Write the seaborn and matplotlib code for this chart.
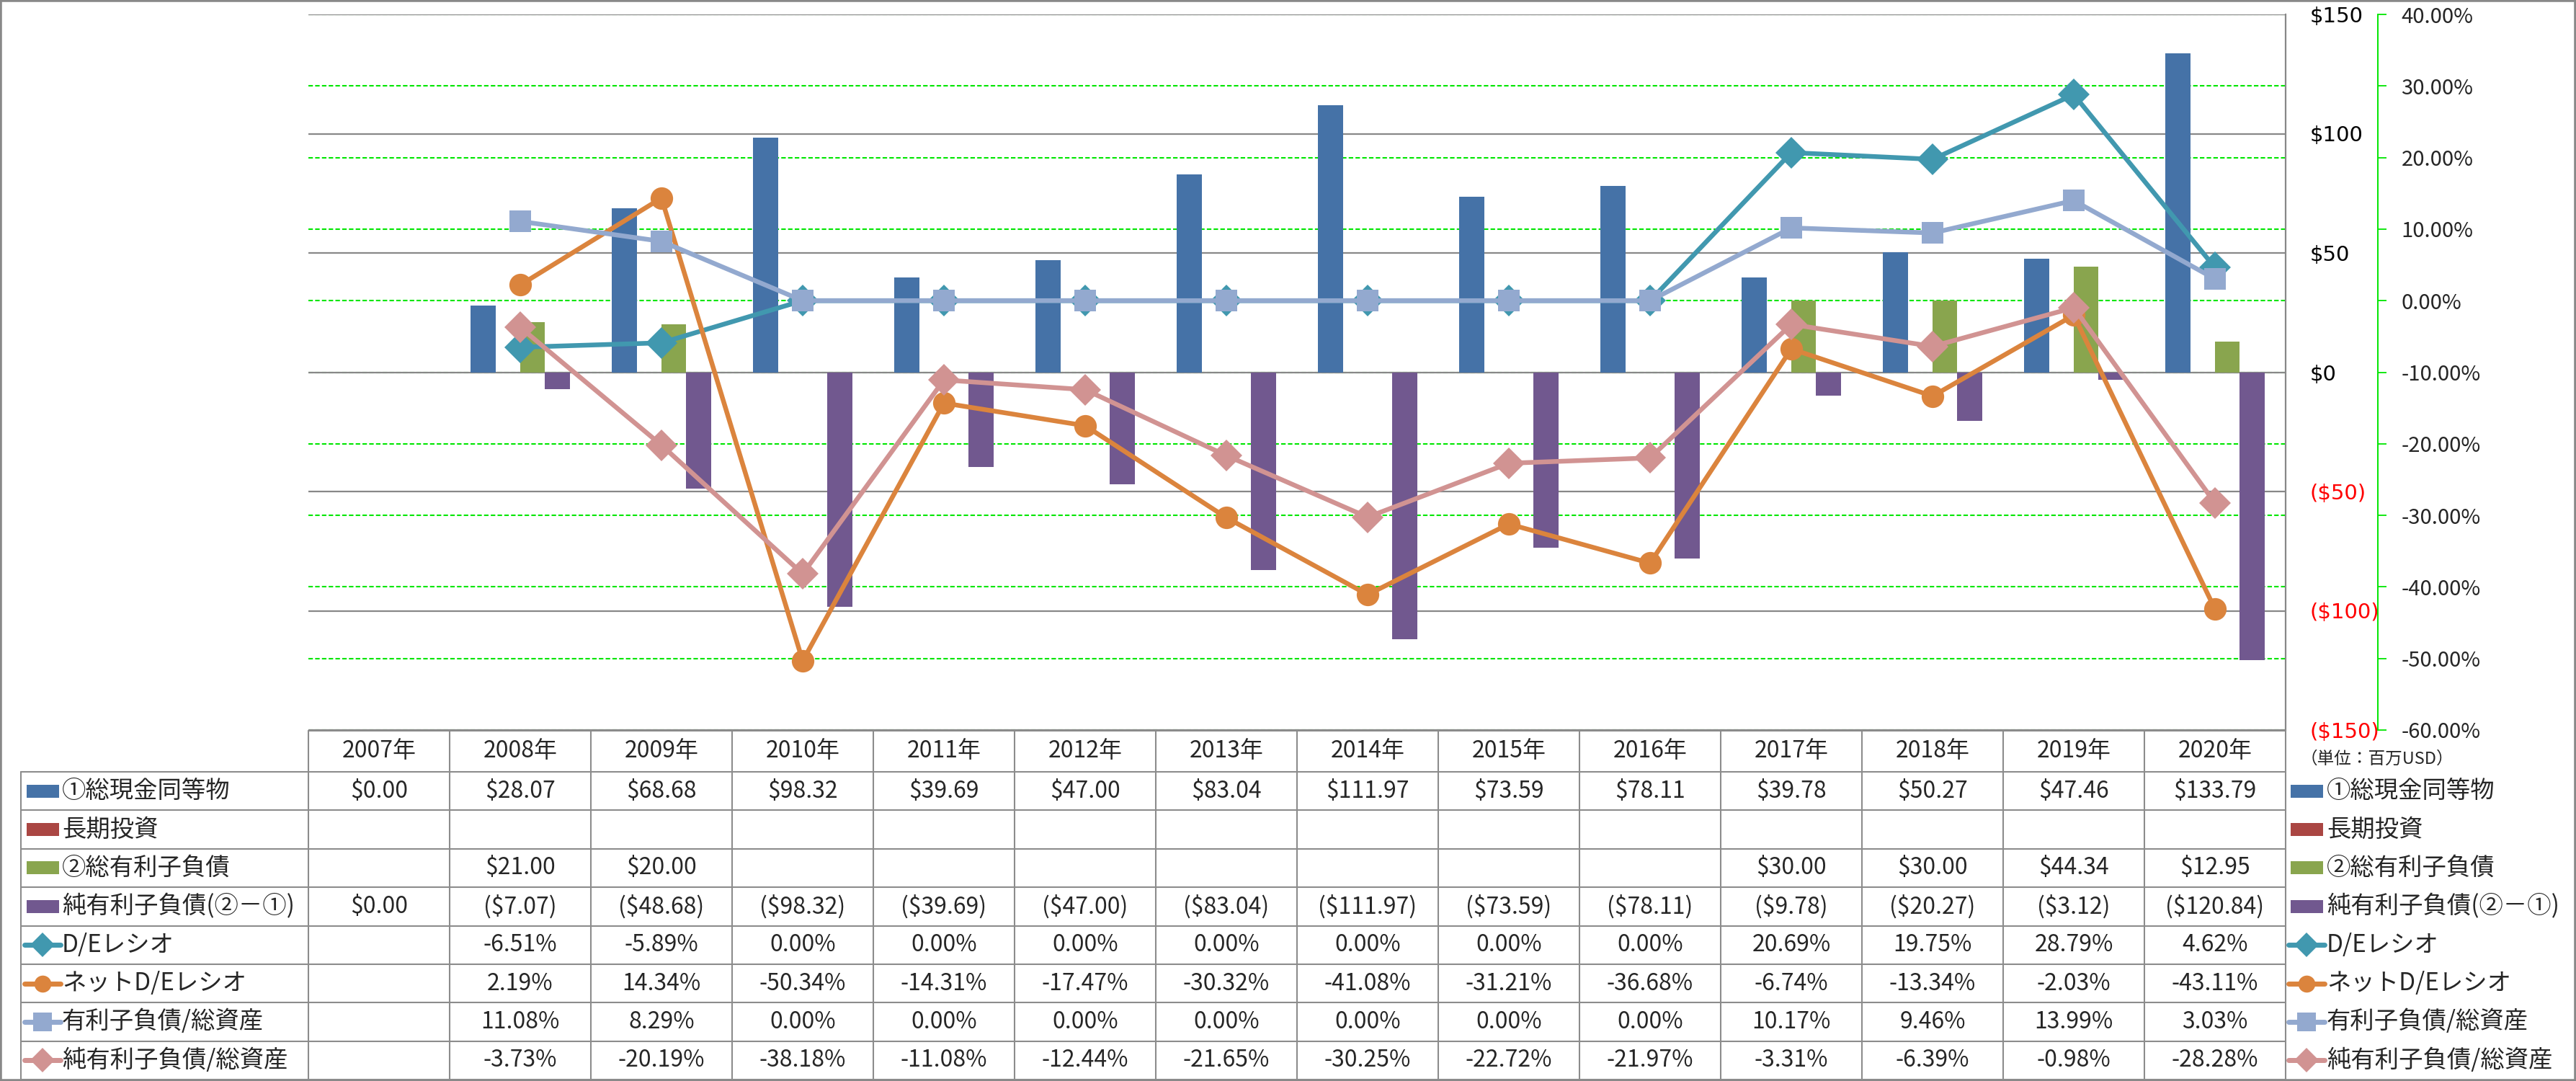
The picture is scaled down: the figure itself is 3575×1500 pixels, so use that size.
import numpy as np
import pandas as pd
import seaborn as sns
import matplotlib.pyplot as plt
from matplotlib.lines import Line2D
from matplotlib.patches import Rectangle
from matplotlib.transforms import Affine2D, blended_transform_factory

# data (百万USD / %)
years = ['2007年', '2008年', '2009年', '2010年', '2011年', '2012年', '2013年',
         '2014年', '2015年', '2016年', '2017年', '2018年', '2019年', '2020年']
cash = [0.00, 28.07, 68.68, 98.32, 39.69, 47.00, 83.04, 111.97, 73.59, 78.11, 39.78, 50.27, 47.46, 133.79]
invest = [None, None, None, None, None, None, None, None, None, None, None, None, None, None]
debt = [None, 21.00, 20.00, None, None, None, None, None, None, None, 30.00, 30.00, 44.34, 12.95]
net_debt = [0.00, -7.07, -48.68, -98.32, -39.69, -47.00, -83.04, -111.97, -73.59, -78.11, -9.78, -20.27, -3.12, -120.84]
de_ratio = [None, -6.51, -5.89, 0.00, 0.00, 0.00, 0.00, 0.00, 0.00, 0.00, 20.69, 19.75, 28.79, 4.62]
net_de_ratio = [None, 2.19, 14.34, -50.34, -14.31, -17.47, -30.32, -41.08, -31.21, -36.68, -6.74, -13.34, -2.03, -43.11]
debt_assets = [None, 11.08, 8.29, 0.00, 0.00, 0.00, 0.00, 0.00, 0.00, 0.00, 10.17, 9.46, 13.99, 3.03]
net_debt_assets = [None, -3.73, -20.19, -38.18, -11.08, -12.44, -21.65, -30.25, -22.72, -21.97, -3.31, -6.39, -0.98, -28.28]

bar_names = ['①総現金同等物', '長期投資', '②総有利子負債', '純有利子負債(②－①)']
bar_colors = ['#4572A7', '#AA4643', '#89A54E', '#71588F']
line_names = ['D/Eレシオ', 'ネットD/Eレシオ', '有利子負債/総資産', '純有利子負債/総資産']
line_colors = ['#4198AF', '#DB843D', '#93A9CF', '#D19392']
line_markers = ['D', 'o', 's', 'D']
line_ms = [22, 22.5, 22, 22]
key_ms = [17, 17, 19, 17]

dollar_ticks = [-150, -100, -50, 0, 50, 100, 150]
pct_ticks = [-60, -50, -40, -30, -20, -10, 0, 10, 20, 30, 40]

sns.set_style('white')
plt.rcParams['font.family'] = ['Noto Sans CJK JP', 'DejaVu Sans']

W, H = 3575, 1500
fig = plt.figure(figsize=(W / 100, H / 100), dpi=100)
pix = Affine2D().scale(1 / W, -1 / H).translate(0, 1) + fig.transFigure

plot_l, plot_r, plot_t, plot_b = 428, 3172, 20, 1013
ax = fig.add_axes([plot_l / W, 1 - plot_b / H, (plot_r - plot_l) / W, (plot_b - plot_t) / H])

# bars
bar_df = pd.DataFrame({
    'year': years * 4,
    'series': [n for n in bar_names for _ in years],
    'value': pd.to_numeric(pd.Series(cash + invest + debt + net_debt), errors='coerce'),
})
sns.barplot(data=bar_df, x='year', y='value', hue='series', order=years, hue_order=bar_names,
            palette=bar_colors, width=0.7, saturation=1, errorbar=None, legend=False,
            linewidth=0, ax=ax)

ax2 = ax.twinx()
xpos = np.arange(len(years))
line_data = [de_ratio, net_de_ratio, debt_assets, net_debt_assets]
for vals, c, m, ms in zip(line_data, line_colors, line_markers, line_ms):
    y = np.array([np.nan if v is None else v for v in vals], dtype=float)
    sns.lineplot(x=xpos, y=y, ax=ax2, color=c, marker=m, markersize=ms, linewidth=4.7,
                 markeredgewidth=0, legend=False)

ax.set_xlim(-0.5, len(years) - 0.5)
ax.set_ylim(-150, 150)
ax2.set_ylim(-60, 40)
for a in (ax, ax2):
    a.set_xlabel('')
    a.set_ylabel('')
ax.set_xticks([])

# gridlines: gray for $, green dotted for %
ax.set_yticks(dollar_ticks,
              labels=[f'${v}' if v >= 0 else f'(${-v})' for v in dollar_ticks])
ax.yaxis.grid(True, color='#888888', lw=1.6)
ax.set_axisbelow(True)
trans = blended_transform_factory(ax.transAxes, ax2.transData)
for p in pct_ticks:
    ax.add_line(Line2D([0, 1], [p, p], transform=trans, color='#00E600', lw=1.5,
                       ls=(0, (3, 1.5)), zorder=0.3))

ax.yaxis.tick_right()
ax.tick_params(axis='y', length=0, pad=24, labelsize=21)
for lbl, v in zip(ax.get_yticklabels(), dollar_ticks):
    lbl.set_fontfamily('DejaVu Sans')
    lbl.set_color('red' if v < 0 else 'black')

ax2.set_yticks(pct_ticks, labels=[f'{v:.2f}%' for v in pct_ticks])
ax2.tick_params(axis='y', direction='out', length=8.6, width=1.3, color='#00E600',
                pad=15, labelsize=21)
for lbl, v in zip(ax2.get_yticklabels(), pct_ticks):
    lbl.set_fontfamily('DejaVu Sans')
    lbl.set_color('red' if v < 0 else 'black')

for s in ['top', 'bottom', 'left']:
    ax.spines[s].set_visible(False)
    ax2.spines[s].set_visible(False)
ax.spines['right'].set_color('#888888')
ax.spines['right'].set_linewidth(1.6)
ax2.spines['right'].set_position(('outward', 92))
ax2.spines['right'].set_color('#00E600')
ax2.spines['right'].set_linestyle((0, (1.5, 1)))
ax2.spines['right'].set_linewidth(1.4)

# data table
grid_c = '#8c8c8c'
head_t, head_b = 1014, 1071
row_h = (1498 - head_b) / 8
row_y = [head_b + row_h * (k + 0.5) for k in range(8)]
col_edges = [plot_l + (plot_r - plot_l) / len(years) * i for i in range(len(years) + 1)]

def fline(xs, ys, **kw):
    fig.add_artist(Line2D(xs, ys, transform=pix, **kw))

fline([plot_l, plot_r], [head_t, head_t], color=grid_c, lw=1.5)
for k in range(9):
    y = head_b + row_h * k
    fline([29, plot_r], [y, y], color=grid_c, lw=1.5)
fline([29, 29], [head_b, 1498], color=grid_c, lw=1.5)
for x in col_edges:
    fline([x, x], [head_t, 1498], color=grid_c, lw=1.5)

col_tr = blended_transform_factory(ax.transData, pix)
for i, yr in enumerate(years):
    fig.text(i, (head_t + head_b) / 2, yr, transform=col_tr, ha='center', va='center', fontsize=23)

def money(v):
    if v is None:
        return ''
    return f'${v:.2f}' if v >= 0 else f'(${-v:.2f})'

def pct(v):
    return '' if v is None else f'{v:.2f}%'

rows = [(n, vals, money, c, None, 0) for n, vals, c in zip(bar_names, [cash, invest, debt, net_debt], bar_colors)]
rows += [(n, vals, pct, c, m, k) for n, vals, c, m, k in zip(line_names, line_data, line_colors, line_markers, key_ms)]

def legend_key(x0, y, color, marker, ms):
    if marker is None:
        fig.add_artist(Rectangle((x0 + 3, y + 9), 45, -18, transform=pix, color=color, lw=0))
    else:
        fline([x0, x0 + 50], [y, y], color=color, lw=5, solid_capstyle='round')
        fline([x0 + 25], [y], color=color, marker=marker, ms=ms, mew=0, ls='none')

for (name, vals, fmt, color, marker, kms), y in zip(rows, row_y):
    legend_key(34, y, color, marker, kms)
    fig.text(86, y, name, transform=pix, ha='left', va='center', fontsize=24)
    for i, v in enumerate(vals):
        fig.text(i, y, fmt(v), transform=col_tr, ha='center', va='center', fontsize=23)
    # right-hand legend
    legend_key(3176, y, color, marker, kms)
    fig.text(3229, y, name, transform=pix, ha='left', va='center', fontsize=24)

fig.text(3193, 1053, '（単位：百万USD）', transform=pix, ha='left', va='center', fontsize=17)

fig.add_artist(Rectangle((0, 0), 1, 1, transform=fig.transFigure, fill=False,
                         edgecolor='#888888', lw=4))

fig.savefig('out.png', dpi=100)
